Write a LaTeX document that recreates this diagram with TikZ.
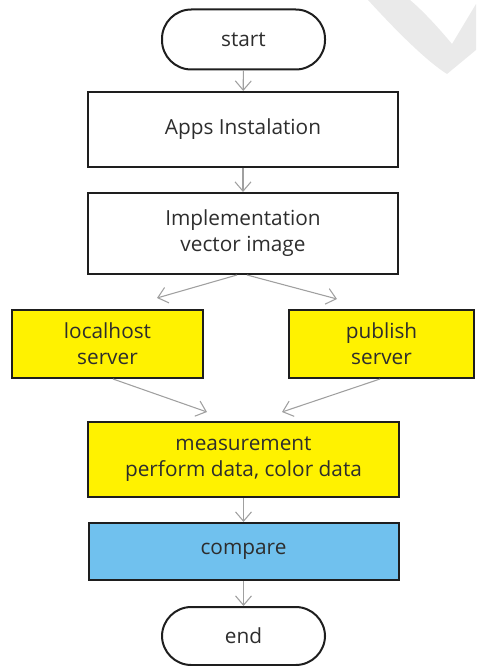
\documentclass[tikz,border=0pt]{standalone}
\usepackage{fontspec}
\setmainfont{Open Sans}
\usepackage{xcolor}
\usetikzlibrary{arrows.meta}
\definecolor{inkgray}{RGB}{45,45,45}
\definecolor{edgedark}{RGB}{30,30,30}
\definecolor{flowgray}{RGB}{160,160,160}
\definecolor{stepyellow}{RGB}{255,242,0}
\definecolor{stepblue}{RGB}{112,193,238}
\definecolor{markgray}{RGB}{234,234,234}

\begin{document}
\begin{tikzpicture}[x=0.75pt,y=-0.75pt,
  box/.style={draw=edgedark, line width=1.5pt, align=center, inner sep=0pt, text=inkgray,
    minimum width=232.5pt, minimum height=56.25pt, font=\fontsize{15.6}{19.5}\selectfont},
  term/.style={box, rounded corners=22pt, minimum width=122.25pt, minimum height=45pt},
  flow/.style={draw=flowgray, line width=0.8pt, -{Straight Barb[length=7pt,width=12pt]}}]
  \useasboundingbox (0,0) rectangle (476,666);

  % faint mark in the corner
  \fill[markgray] (368,0) .. controls (400,35) and (428,62) .. (447,74) -- (476,50)
    -- (476,4) -- (452,44) .. controls (437,26) and (422,10) .. (410,0) -- cycle;

  % main column
  \node[term] (start) at (243.5,39.5) {start};
  \node[box] (apps) at (243,129.5) {Apps Instalation};
  \node[box, minimum height=60.75pt] (impl) at (243,233.5) {Implementation\\vector image};
  \node[box, fill=stepyellow, minimum width=143.25pt, minimum height=51pt] (local) at (107.5,344) {localhost\\server};
  \node[box, fill=stepyellow, minimum width=138.75pt, minimum height=51pt] (publish) at (381.5,344) {publish\\server};
  \node[box, fill=stepyellow, minimum width=233.25pt] (measure) at (243.5,459.5) {measurement\\perform data, color data};
  \node[box, fill=stepblue, minimum height=42.75pt] (compare) at (243.5,551.5) {compare};
  \node[term, minimum height=43.5pt] (end) at (243.5,636) {end};

  % free ends of the split and merge arrows
  \coordinate (toleft) at (157,298);
  \coordinate (toright) at (337,299);
  \coordinate (fromleft) at (207,412);
  \coordinate (fromright) at (282,412);

  \draw[flow] (start) -- (apps);
  \draw[flow] (apps) -- (impl);
  \draw[flow] (impl.south) ++(-6,0) -- (toleft);
  \draw[flow] (impl.south) ++(4,0) -- (toright);
  \draw[flow] (local.south) ++(5.5,0) -- (fromleft);
  \draw[flow] (publish.south) ++(-1.5,0) -- (fromright);
  \draw[flow] (measure) -- (compare);
  \draw[flow] (compare) -- (end);
\end{tikzpicture}
\end{document}
